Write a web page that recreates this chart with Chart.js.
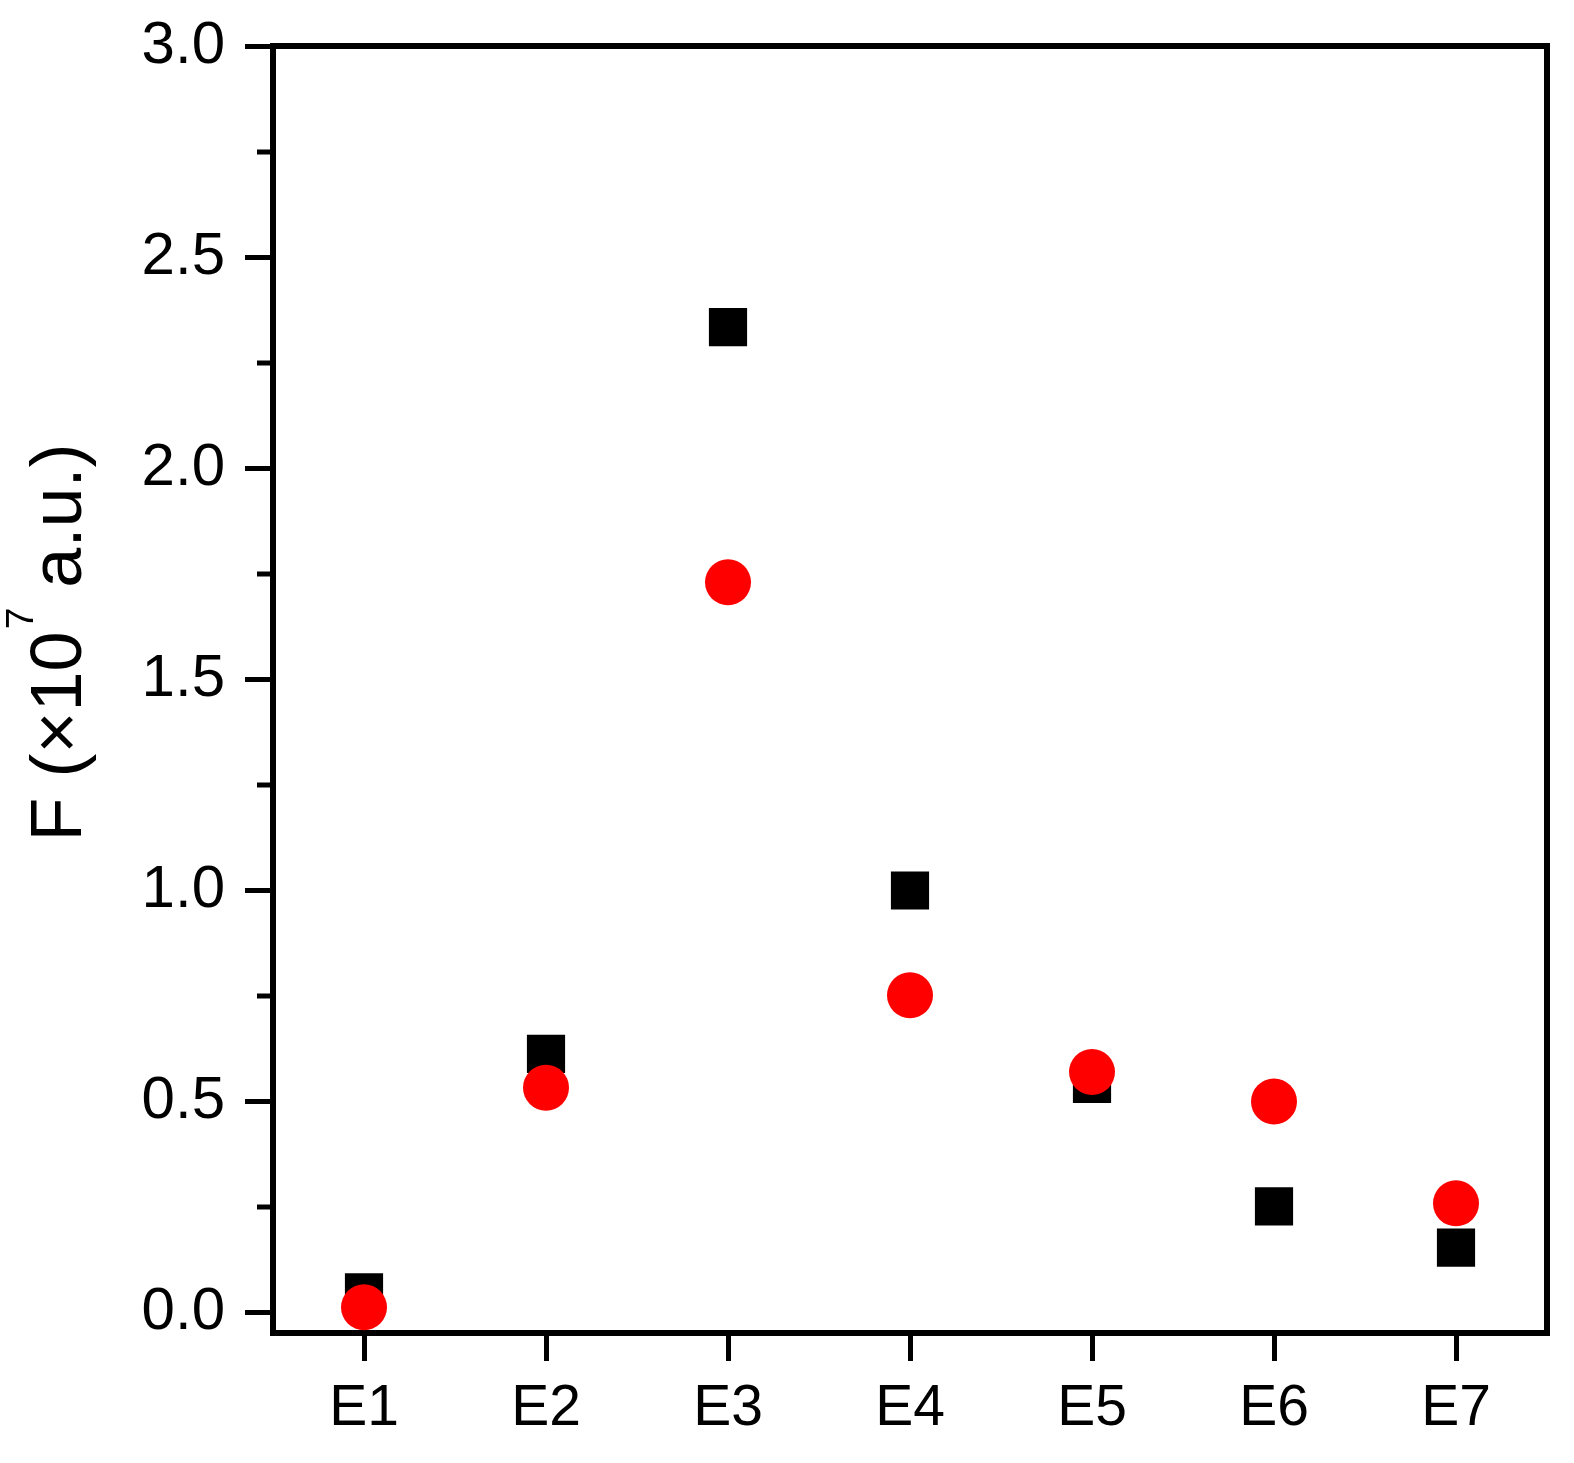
<!DOCTYPE html>
<html><head><meta charset="utf-8">
<script src="https://cdn.jsdelivr.net/npm/chart.js@4/dist/chart.umd.min.js"></script>
<style>html,body{margin:0;padding:0;background:#fff}canvas{display:block}</style>
</head><body>
<canvas id="c" width="1574" height="1463"></canvas>
<script>
const categories = ['E1', 'E2', 'E3', 'E4', 'E5', 'E6', 'E7'];
const squareValues = [0.048, 0.613, 2.334, 1.0, 0.542, 0.252, 0.154];
const circleValues = [0.013, 0.533, 1.730, 0.752, 0.570, 0.500, 0.259];
const yMajorTicks = [0, 0.5, 1.0, 1.5, 2.0, 2.5, 3.0];
const yMinorTicks = [0.25, 0.75, 1.25, 1.75, 2.25, 2.75];
const yMin = -0.048;
const yMax = 3.0;
const titleMain1 = 'F (\u00D710';
const titleSup = '7';
const titleMain2 = ' a.u.)';

const FONT = '"Liberation Sans", Arial, Helvetica, sans-serif';

const framePlugin = {
  id: 'frame',
  beforeDatasetsDraw(chart) {
    const {ctx, chartArea} = chart;
    const y = chart.scales.y;
    ctx.save();
    ctx.strokeStyle = '#000';
    ctx.lineWidth = 6;
    ctx.strokeRect(chartArea.left, chartArea.top, chartArea.right - chartArea.left, chartArea.bottom - chartArea.top);
    ctx.lineWidth = 5;
    ctx.beginPath();
    yMinorTicks.forEach(v => {
      const py = Math.round(y.getPixelForValue(v));
      ctx.moveTo(chartArea.left, py);
      ctx.lineTo(chartArea.left - 16, py);
    });
    ctx.stroke();
    ctx.restore();
  },
  afterDraw(chart) {
    const {ctx, chartArea} = chart;
    ctx.save();
    const mainFont = '72px ' + FONT;
    const supFont = '39px ' + FONT;
    ctx.font = mainFont;
    const w1 = ctx.measureText(titleMain1).width;
    const w3 = ctx.measureText(titleMain2).width;
    ctx.font = supFont;
    const w2 = ctx.measureText(titleSup).width;
    const total = w1 + w2 + w3;
    const cy = (chartArea.top + chartArea.bottom) / 2 - 46;
    ctx.translate(81, cy);
    ctx.rotate(-Math.PI / 2);
    ctx.fillStyle = '#000';
    ctx.textBaseline = 'alphabetic';
    ctx.textAlign = 'left';
    let x = -total / 2;
    ctx.font = mainFont;
    ctx.fillText(titleMain1, x, 0);
    x += w1 + 2;
    ctx.font = supFont;
    ctx.fillText(titleSup, x, -48);
    x += w2;
    ctx.font = mainFont;
    ctx.fillText(titleMain2, x, 0);
    ctx.restore();
  }
};

new Chart(document.getElementById('c'), {
  type: 'line',
  data: {
    labels: categories,
    datasets: [
      {
        label: 'circles',
        data: circleValues,
        showLine: false,
        pointStyle: 'circle',
        pointRadius: 23,
        pointHoverRadius: 23,
        pointBackgroundColor: '#ff0000',
        pointBorderColor: '#ff0000',
        pointBorderWidth: 0,
        order: 0
      },
      {
        label: 'squares',
        data: squareValues,
        showLine: false,
        pointStyle: 'rect',
        pointRadius: 27,
        pointHoverRadius: 27,
        pointBackgroundColor: '#000000',
        pointBorderColor: '#000000',
        pointBorderWidth: 0,
        order: 1
      }
    ]
  },
  options: {
    responsive: false,
    animation: false,
    devicePixelRatio: 1,
    clip: false,
    layout: { padding: { left: 0, top: 46, right: 23, bottom: 0 } },
    plugins: { legend: { display: false }, tooltip: { enabled: false } },
    scales: {
      x: {
        type: 'category',
        offset: true,
        grid: { display: true, drawOnChartArea: false, drawTicks: true, tickLength: 28, tickWidth: 5, tickColor: '#000', offset: false },
        border: { display: false },
        ticks: { color: '#000', font: { family: FONT, size: 57 }, padding: 14, maxRotation: 0, autoSkip: false },
        afterFit(scale) { scale.height = 130; scale.paddingLeft = 0; scale.paddingRight = 0; }
      },
      y: {
        type: 'linear',
        min: yMin,
        max: yMax,
        grid: { display: true, drawOnChartArea: false, drawTicks: true, tickLength: 28, tickWidth: 5, tickColor: '#000' },
        border: { display: false },
        ticks: { color: '#000', font: { family: FONT, size: 60 }, padding: 20, callback: v => Number(v).toFixed(1) },
        afterBuildTicks(scale) { scale.ticks = yMajorTicks.map(v => ({ value: v })); },
        afterFit(scale) { scale.width = 273; scale.paddingTop = 0; scale.paddingBottom = 0; }
      }
    }
  },
  plugins: [framePlugin]
});
</script>
</body></html>
